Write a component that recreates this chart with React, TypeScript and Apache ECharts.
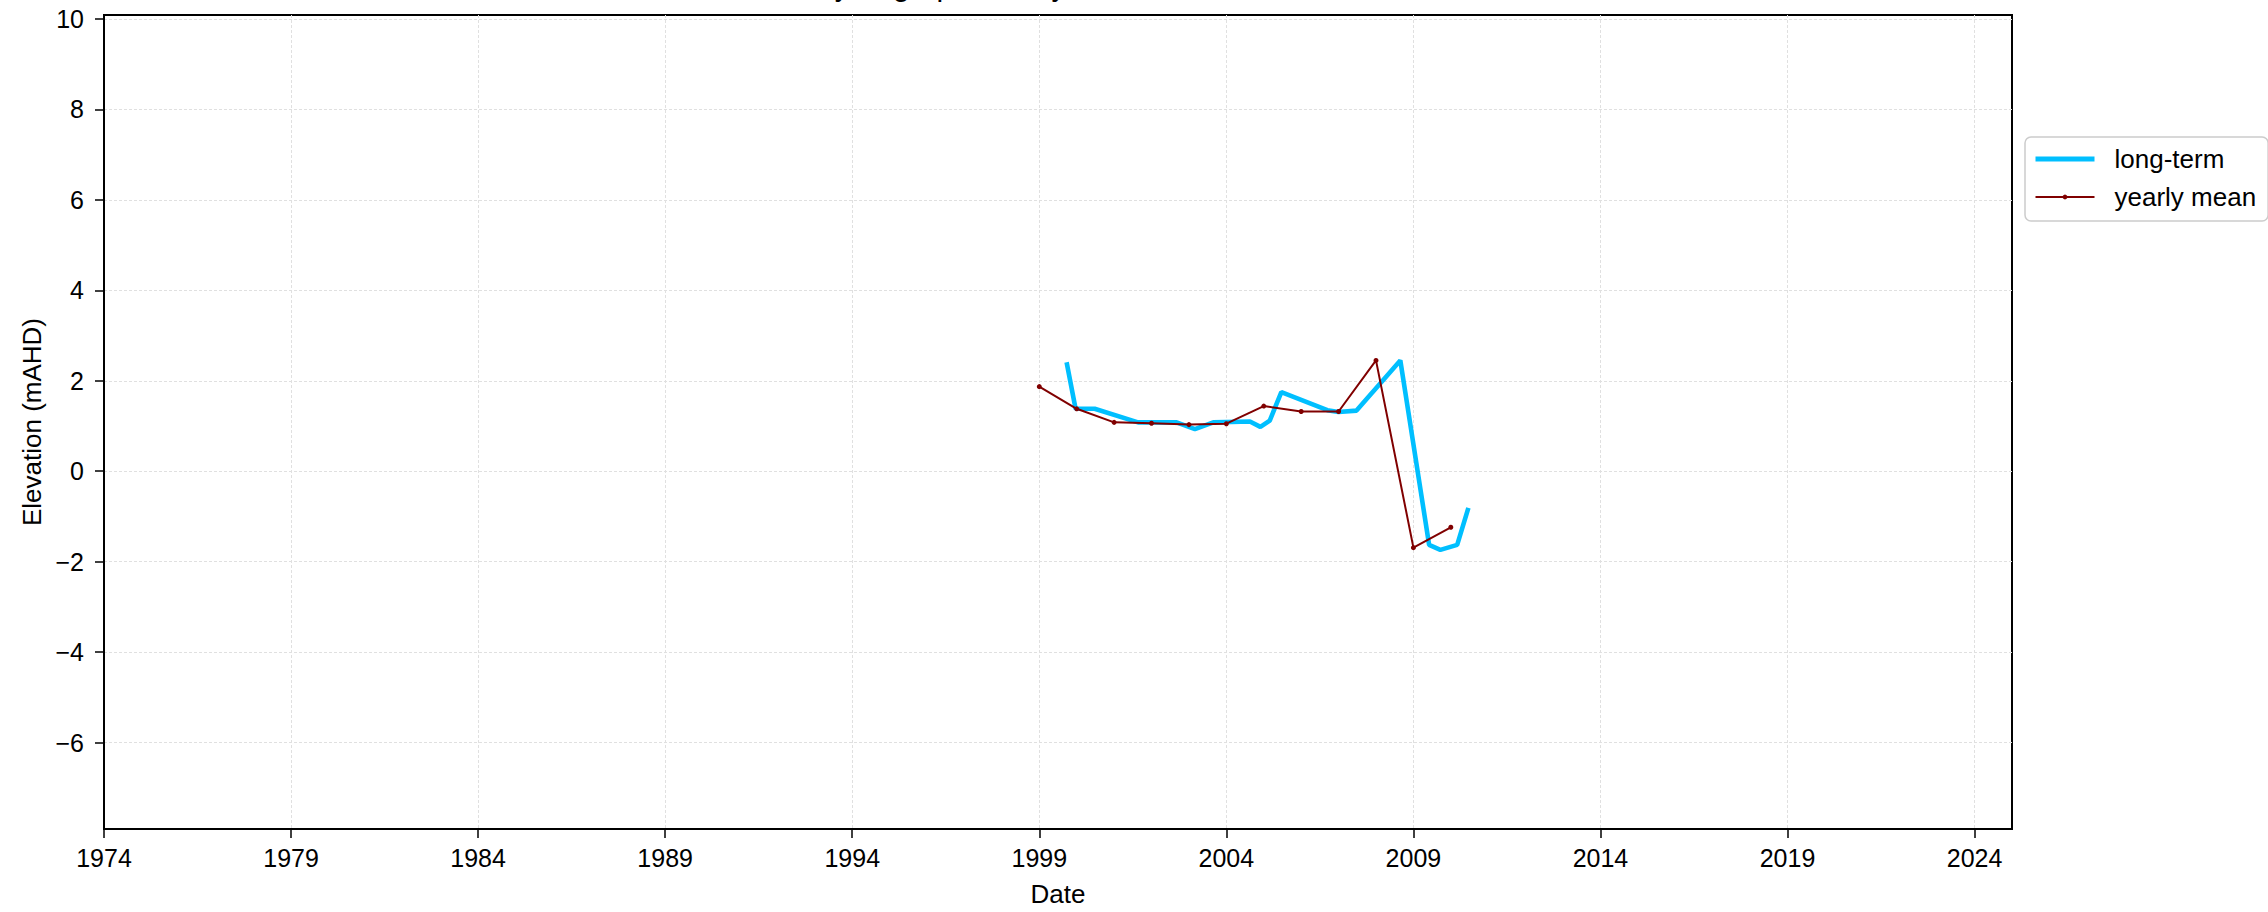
import React, { useEffect, useRef } from 'react';
import * as echarts from 'echarts';

// ---- data (decimal years, mAHD) ----
const longTermDates = [1999.73, 1999.97, 2000.48, 2001.64, 2002.67, 2003.16, 2003.65, 2004.63, 2004.91, 2005.16, 2005.47, 2006.7, 2007.0, 2007.48, 2008.65, 2009.42, 2009.72, 2010.17, 2010.47];
const longTermValues = [2.41, 1.38, 1.38, 1.08, 1.08, 0.93, 1.08, 1.10, 0.98, 1.12, 1.75, 1.35, 1.31, 1.34, 2.45, -1.63, -1.74, -1.63, -0.81];

const yearlyMeanDates = [1999, 2000, 2001, 2002, 2003, 2004, 2005, 2006, 2007, 2008, 2009, 2010];
const yearlyMeanValues = [1.87, 1.38, 1.08, 1.06, 1.03, 1.05, 1.44, 1.32, 1.32, 2.45, -1.69, -1.24];

const xTickYears = [1974, 1979, 1984, 1989, 1994, 1999, 2004, 2009, 2014, 2019, 2024];
const yTickValues = [-6, -4, -2, 0, 2, 4, 6, 8, 10];

const seriesNames = ['long-term', 'yearly mean'];
const titleText = 'Hydrograph survey';
const xAxisTitle = 'Date';
const yAxisTitle = 'Elevation (mAHD)';

export default function App() {
  const ref = useRef<HTMLDivElement>(null);

  useEffect(() => {
    document.body.style.margin = '0';
    const chart = echarts.init(ref.current as HTMLDivElement, null, { renderer: 'svg' });
    const font = "'Liberation Sans', Arial, sans-serif";
    const gridLine = { show: true, lineStyle: { color: '#e0e0e0', width: 1, type: [3, 2] as any } };

    chart.setOption({
      animation: false,
      backgroundColor: '#ffffff',
      textStyle: { fontFamily: font },
      graphic: [
        {
          type: 'text',
          x: 813,
          y: 0,
          silent: true,
          style: {
            text: titleText,
            fontSize: 30,
            fontFamily: font,
            fill: '#000',
            align: 'left',
            verticalAlign: 'bottom',
          },
        },
      ],
      grid: {
        left: 104,
        top: 15,
        width: 1908,
        height: 819,
        show: true,
        borderColor: '#000',
        borderWidth: 2,
        backgroundColor: 'transparent',
      },
      legend: {
        show: true,
        orient: 'vertical',
        left: 2025,
        top: 137,
        itemWidth: 59,
        itemHeight: 6,
        itemGap: 12,
        padding: [9, 12, 11, 8],
        backgroundColor: '#ffffff',
        borderColor: '#cccccc',
        borderWidth: 1.5,
        borderRadius: 6,
        textStyle: { fontSize: 26, color: '#000', fontFamily: font, padding: [0, 0, 0, 15], lineHeight: 26 },
        data: [
          { name: seriesNames[0], lineStyle: { width: 5, color: '#00bfff' }, itemStyle: { opacity: 0 } },
          { name: seriesNames[1], lineStyle: { width: 2, color: '#800000' }, itemStyle: { color: '#800000' } },
        ],
      },
      xAxis: {
        type: 'value',
        min: 1974,
        max: 2025,
        name: xAxisTitle,
        nameLocation: 'middle',
        nameGap: 52,
        nameTextStyle: { fontSize: 26, color: '#000', fontFamily: font },
        axisLine: { show: true, onZero: false, lineStyle: { color: '#000', width: 2 } },
        axisTick: { show: true, inside: false, length: 9, customValues: xTickYears, lineStyle: { color: '#000', width: 1.5 } },
        axisLabel: {
          customValues: xTickYears,
          margin: 16,
          fontSize: 25,
          color: '#000',
          fontFamily: font,
          formatter: (v: number) => String(Math.round(v)),
        },
        splitLine: gridLine,
      },
      yAxis: {
        type: 'value',
        min: -7.912,
        max: 10.088,
        name: yAxisTitle,
        nameLocation: 'middle',
        nameRotate: 90,
        nameGap: 59,
        nameTextStyle: { fontSize: 26, color: '#000', fontFamily: font },
        axisLine: { show: true, onZero: false, lineStyle: { color: '#000', width: 2 } },
        axisTick: { show: true, inside: false, length: 9, customValues: yTickValues, lineStyle: { color: '#000', width: 1.5 } },
        axisLabel: {
          customValues: yTickValues,
          margin: 20,
          fontSize: 25,
          color: '#000',
          fontFamily: font,
          formatter: (v: number) => String(Math.round(v)).replace('-', '\u2212'),
        },
        splitLine: gridLine,
      },
      series: [
        {
          type: 'line',
          name: seriesNames[0],
          data: longTermDates.map((d, i) => [d, longTermValues[i]]),
          symbol: 'none',
          lineStyle: { color: '#00bfff', width: 4.6 },
          itemStyle: { color: '#00bfff' },
          z: 2,
        },
        {
          type: 'line',
          name: seriesNames[1],
          data: yearlyMeanDates.map((d, i) => [d, yearlyMeanValues[i]]),
          symbol: 'circle',
          symbolSize: 5,
          lineStyle: { color: '#800000', width: 2 },
          itemStyle: { color: '#800000' },
          z: 3,
        },
      ],
    });

    return () => chart.dispose();
  }, []);

  return <div ref={ref} style={{ width: 2268, height: 912 }} />;
}
